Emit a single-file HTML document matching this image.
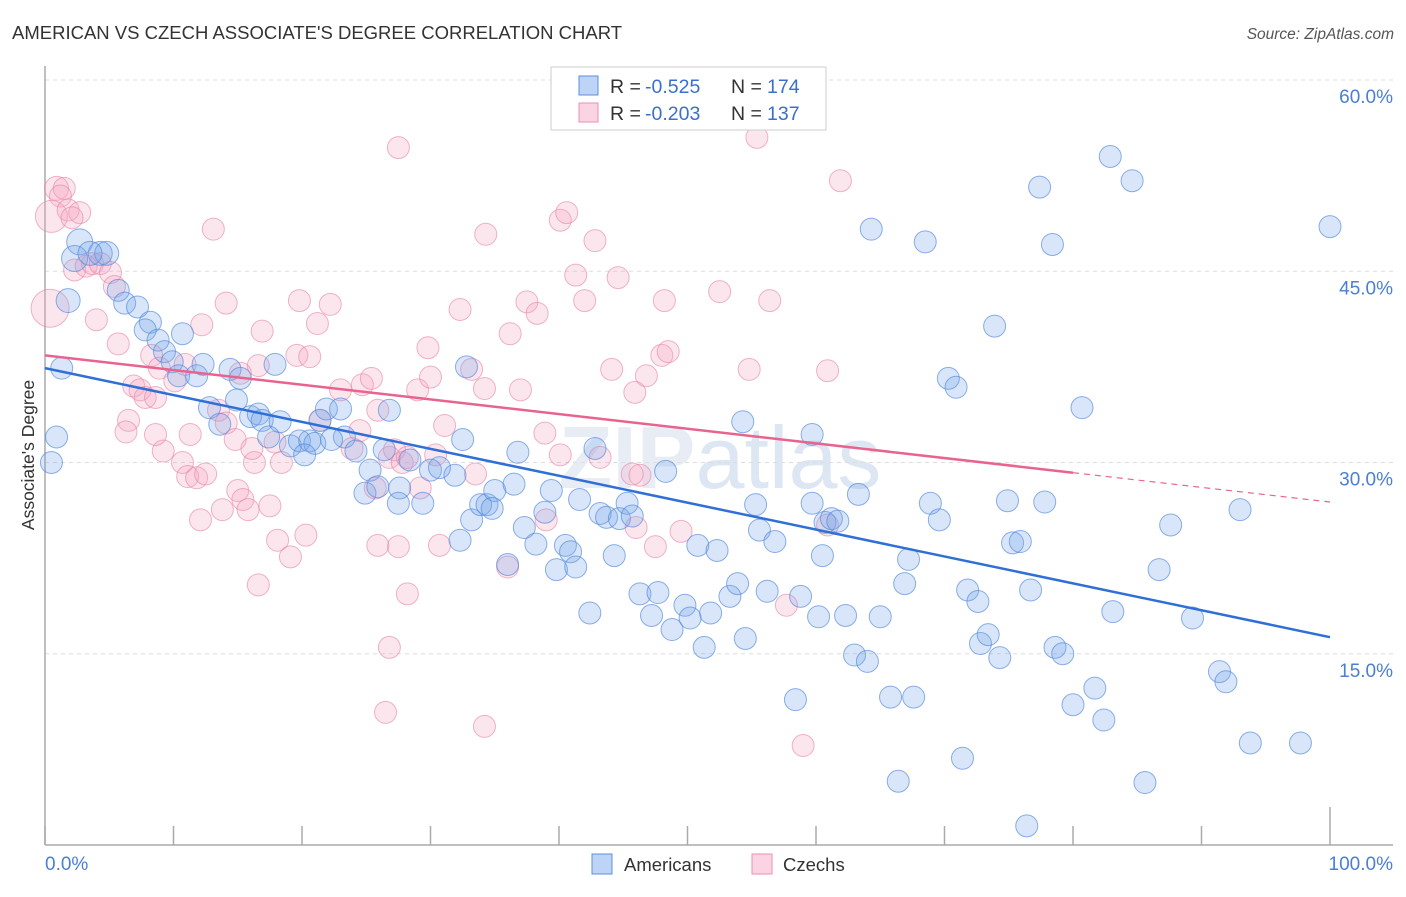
<!DOCTYPE html>
<html><head><meta charset="utf-8"><style>
body{margin:0;background:#fff;font-family:"Liberation Sans",sans-serif;}
svg text{font-family:"Liberation Sans",sans-serif;}
</style></head><body>
<svg id="chart" width="1406" height="892" xmlns="http://www.w3.org/2000/svg">
<text x="12" y="39" font-size="18.5" fill="#333">AMERICAN VS CZECH ASSOCIATE'S DEGREE CORRELATION CHART</text>
<text x="1394" y="39" font-size="15.5" fill="#555" text-anchor="end" font-style="italic">Source: ZipAtlas.com</text>
<text x="720" y="488" font-size="88" fill="#e8edf5" text-anchor="middle" font-weight="bold">ZIP<tspan fill="#dde6f3" font-weight="normal">atlas</tspan></text>
<g id="grid"></g>
<g id="axes"></g>
<g id="pts"></g>
<g id="trends"></g>
<text transform="translate(34,455) rotate(-90)" font-size="17.5" fill="#333" text-anchor="middle">Associate's Degree</text>
<g>
<rect x="551" y="67" width="275" height="63" fill="#fff" stroke="#ccc"/>
<rect x="579" y="76" width="19" height="19" fill="rgba(110,160,235,0.45)" stroke="#5b8fdc"/>
<rect x="579" y="103" width="19" height="19" fill="rgba(245,160,190,0.45)" stroke="#ec8fb0"/>
<text x="610" y="93" font-size="19.5" fill="#333">R =</text><text x="645" y="93" font-size="19.5" fill="#3a6fd0">-0.525</text>
<text x="731" y="93" font-size="19.5" fill="#333">N =</text><text x="767" y="93" font-size="19.5" fill="#3a6fd0">174</text>
<text x="610" y="120" font-size="19.5" fill="#333">R =</text><text x="645" y="120" font-size="19.5" fill="#3a6fd0">-0.203</text>
<text x="731" y="120" font-size="19.5" fill="#333">N =</text><text x="767" y="120" font-size="19.5" fill="#3a6fd0">137</text>
</g>
<g>
<rect x="592" y="854" width="20" height="20" fill="rgba(110,160,235,0.45)" stroke="#5b8fdc"/>
<text x="624" y="871" font-size="18.5" fill="#333">Americans</text>
<rect x="752" y="854" width="20" height="20" fill="rgba(245,160,190,0.45)" stroke="#ec8fb0"/>
<text x="783" y="871" font-size="18.5" fill="#333">Czechs</text>
</g>
</svg>
<script>
const yTicks=[15,30,45,60];
const yTickLabels=["15.0%","30.0%","45.0%","60.0%"];
const xTickVals=[0,10,20,30,40,50,60,70,80,90,100];
const xEndLabels=["0.0%","100.0%"];
const americans=[[2.7,47.3,13],[2.3,46.0,13],[4.3,46.4,12],[4.8,46.4,12],[3.5,46.4,12],[1.8,42.7,12],[1.3,37.4],[0.9,32.0],[0.5,30.0],[5.7,43.5],[6.2,42.5],[7.2,42.2],[8.2,41.0],[7.8,40.4],[8.8,39.6],[10.7,40.1],[9.3,38.7],[9.9,37.9],[10.4,36.8],[11.8,36.8],[12.3,37.7],[14.4,37.3],[15.2,36.6],[17.9,37.7],[14.9,34.9],[12.8,34.3],[13.6,33.0],[16.0,33.6],[16.6,33.8],[16.9,33.3],[18.3,33.2],[17.4,32.0],[19.1,31.3],[19.8,31.7],[20.6,31.7],[21.0,31.5],[20.2,30.6],[21.4,33.3],[21.9,34.2],[23.0,34.2],[23.3,32.0],[22.3,31.8],[24.2,30.9],[24.9,27.6],[25.3,29.4],[25.9,28.1],[26.8,34.1],[26.4,31.0],[27.6,28.0],[28.4,30.2],[27.5,26.8],[29.4,26.8],[30.0,29.4],[30.7,29.6],[32.3,23.9],[32.8,37.5],[32.5,31.8],[31.9,29.0],[33.2,25.5],[33.9,26.7],[34.4,26.7],[35.0,27.8],[34.8,26.4],[36.0,22.0],[36.5,28.3],[36.8,30.8],[37.3,24.9],[38.2,23.6],[38.9,26.1],[39.4,27.8],[39.8,21.6],[40.5,23.5],[40.9,23.0],[41.3,21.8],[41.6,27.1],[42.4,18.2],[42.8,31.1],[43.2,26.0],[43.7,25.7],[44.3,22.7],[44.7,25.6],[45.3,26.8],[45.7,25.8],[46.3,19.7],[47.2,18.0],[47.7,19.8],[48.3,29.3],[48.8,16.9],[49.8,18.8],[50.2,17.8],[50.8,23.5],[51.3,15.5],[51.8,18.2],[52.3,23.1],[52.5,58.2],[53.3,19.5],[53.9,20.5],[54.5,16.2],[54.3,33.2],[55.3,26.7],[55.6,24.7],[56.2,19.9],[56.8,23.8],[58.4,11.4],[58.8,19.5],[59.7,26.8],[59.7,32.2],[60.2,17.9],[60.7,25.3],[61.2,25.6],[61.7,25.4],[62.3,18.0],[63.0,14.9],[63.3,27.5],[64.0,14.4],[64.3,48.3],[65.0,17.9],[65.8,11.6],[66.9,20.5],[67.2,22.4],[67.6,11.6],[68.5,47.3],[68.9,26.8],[69.6,25.5],[70.3,36.6],[70.9,35.9],[71.4,6.8],[71.8,20.0],[72.6,19.1],[72.8,15.8],[73.4,16.5],[73.9,40.7],[74.3,14.7],[74.9,27.0],[75.3,23.7],[75.9,23.8],[76.7,20.0],[77.4,51.6],[77.8,26.9],[78.4,47.1],[78.6,15.5],[79.2,15.0],[80.0,11.0],[80.7,34.3],[81.7,12.3],[82.4,9.8],[82.9,54.0],[83.1,18.3],[84.6,52.1],[85.6,4.9],[86.7,21.6],[87.6,25.1],[89.3,17.8],[91.4,13.6],[91.9,12.8],[93.0,26.3],[93.8,8.0],[97.7,8.0],[100,48.5],[66.4,5.0],[76.4,1.5],[60.5,22.7]];
const czechs=[[0.9,51.5,12],[1.5,51.5],[1.2,50.9],[0.5,49.3,16],[1.8,49.8],[2.7,49.6],[2.1,49.2],[0.4,42.1,19],[2.3,45.1],[3.2,45.4],[3.7,45.6],[4.3,45.6],[5.1,44.9],[5.4,43.8],[4.0,41.2],[5.7,39.3],[6.9,36.0],[7.4,35.7],[7.8,35.1],[8.6,35.1],[6.5,33.3],[6.3,32.4],[8.3,38.4],[8.9,37.4],[9.2,30.9],[8.6,32.2],[10.1,36.4],[10.9,37.7],[11.3,32.2],[10.7,30.0],[11.1,28.9],[11.8,28.8],[12.5,29.1],[12.1,25.5],[13.1,48.3],[13.8,26.3],[14.1,42.5],[12.2,40.8],[13.5,34.1],[14.1,33.1],[14.8,31.8],[15.0,27.8],[15.4,27.1],[15.8,26.3],[16.3,30.0],[16.9,40.3],[16.6,37.6],[15.2,37.0],[16.1,31.1],[17.9,31.6],[18.4,30.0],[17.5,26.6],[18.1,23.9],[19.1,22.6],[16.6,20.4],[20.3,24.3],[19.6,38.4],[19.8,42.7],[20.6,38.3],[21.2,40.9],[22.2,42.4],[21.4,33.3],[23.0,35.7],[23.9,31.1],[24.5,32.5],[24.7,36.1],[25.4,36.6],[25.7,28.0],[25.9,34.1],[26.8,30.4],[27.2,31.0],[27.8,30.0],[27.5,23.4],[28.2,19.7],[27.5,54.7],[28.2,30.4],[29.0,35.7],[29.8,39.0],[30.0,36.7],[30.4,30.6],[31.1,32.9],[30.7,23.5],[29.2,28.0],[32.3,42.0],[33.2,37.3],[33.5,29.1],[34.3,47.9],[34.2,35.8],[26.8,15.5],[26.5,10.4],[34.2,9.3],[36.0,21.8],[36.2,40.1],[37.0,35.7],[37.5,42.6],[38.3,41.7],[38.9,32.3],[40.1,49.0],[40.6,49.6],[41.3,44.7],[42.0,42.7],[42.8,47.4],[43.2,30.4],[44.1,37.3],[44.6,44.5],[45.9,35.5],[46.3,29.0],[46.0,24.9],[46.8,36.8],[47.5,23.4],[48.2,42.7],[48.0,38.4],[48.5,38.7],[49.5,24.6],[52.5,43.4],[54.8,37.3],[55.4,55.5],[56.4,42.7],[57.7,18.8],[59.0,7.8],[60.9,25.1],[60.9,37.2],[61.9,52.1],[45.7,29.1],[40.1,30.6],[39.0,25.5],[25.9,23.5]];
const blueTrend=[37.4,16.3];
const pinkTrend=[38.4,26.9];
const pinkSolidEnd=80;

const NS="http://www.w3.org/2000/svg";
const X0=45,X1=1330,YB=845,PXY=12.75;
const sx=v=>X0+(X1-X0)*v/100;
const sy=v=>YB-v*PXY;
function mk(tag,attrs,parent){const e=document.createElementNS(NS,tag);for(const k in attrs)e.setAttribute(k,attrs[k]);parent.appendChild(e);return e;}
const grid=document.getElementById('grid'),axes=document.getElementById('axes'),pts=document.getElementById('pts'),tr=document.getElementById('trends');
yTicks.forEach((t,i)=>{
  const l=mk('line',{x1:X0,x2:1393,y1:sy(t),y2:sy(t),stroke:'#ddd','stroke-dasharray':'4,4'},grid);
  
  
  const tx=mk('text',{x:1393,y:sy(t)+23,'font-size':19,fill:'#4a7fd4','text-anchor':'end'},axes);
  tx.textContent=yTickLabels[i];
  
  
});
const ya=mk('line',{x1:X0,x2:X0,y1:66,y2:YB,stroke:'#aaa','stroke-width':1.5},axes);


const xa=mk('line',{x1:X0,x2:1393,y1:YB,y2:YB,stroke:'#aaa','stroke-width':1.5},axes);


xTickVals.forEach(v=>{
  const t=mk('line',{x1:sx(v),x2:sx(v),y1:YB,y2:v===100?807:826,stroke:'#aaa','stroke-width':1.5},axes);
  
  
});
const xl0=mk('text',{x:45,y:870,'font-size':19,fill:'#4a7fd4'},axes);xl0.textContent=xEndLabels[0];


const xl1=mk('text',{x:1393,y:870,'font-size':19,fill:'#4a7fd4','text-anchor':'end'},axes);xl1.textContent=xEndLabels[1];


function drawPts(arr,fill,stroke,name){
  arr.forEach(p=>{
    const c=mk('circle',{cx:sx(p[0]),cy:sy(p[1]),r:p[2]||11,fill:fill,stroke:stroke,'stroke-width':1},pts);
    
    
  });
}
drawPts(czechs,'rgba(245,165,195,0.28)','rgba(232,130,165,0.6)','czech-point');
drawPts(americans,'rgba(120,165,235,0.28)','rgba(80,135,220,0.65)','american-point');
const lerp=(a,x)=>a[0]+(a[1]-a[0])*x/100;
const bl=mk('line',{x1:sx(0),y1:sy(lerp(blueTrend,0)),x2:sx(100),y2:sy(lerp(blueTrend,100)),stroke:'#2f6fd6','stroke-width':2.5},tr);


const pl=mk('line',{x1:sx(0),y1:sy(lerp(pinkTrend,0)),x2:sx(pinkSolidEnd),y2:sy(lerp(pinkTrend,pinkSolidEnd)),stroke:'#e8648e','stroke-width':2.5},tr);


const pd=mk('line',{x1:sx(pinkSolidEnd),y1:sy(lerp(pinkTrend,pinkSolidEnd)),x2:sx(100),y2:sy(lerp(pinkTrend,100)),stroke:'#e8648e','stroke-width':1.2,'stroke-dasharray':'6,5'},tr);


</script>
</body></html>
